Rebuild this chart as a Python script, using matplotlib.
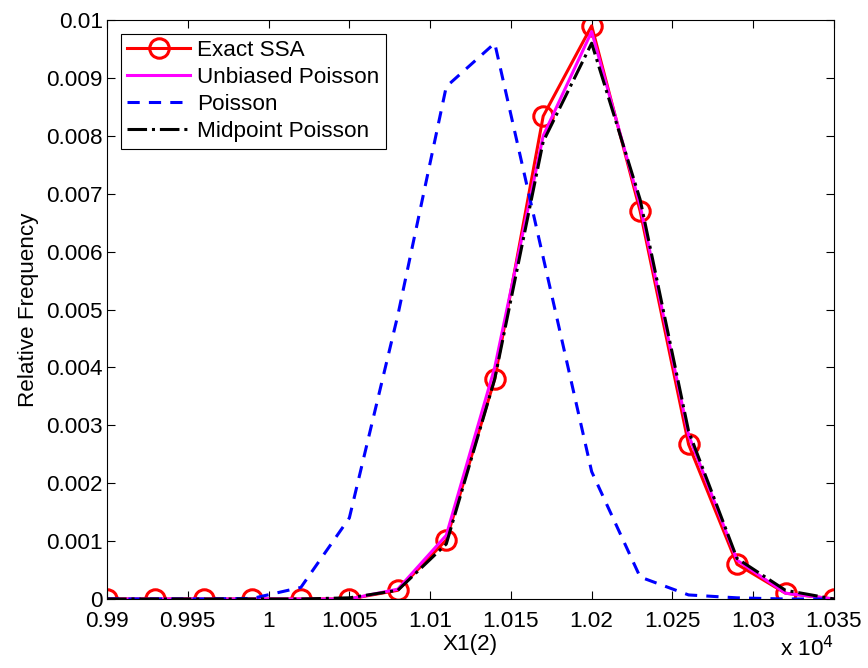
import numpy as np
import matplotlib
matplotlib.use('Agg')
import matplotlib.pyplot as plt
from matplotlib.ticker import FuncFormatter

plt.rcParams['font.family'] = ['Liberation Sans', 'DejaVu Sans']

# bin centres of X1(2)
x = [9900, 9930, 9960, 9990, 10020, 10050, 10080, 10110, 10140,
     10170, 10200, 10230, 10260, 10290, 10320, 10350]

exact_ssa = [0, 0, 0, 0, 0, 0, 0.00015, 0.00102, 0.0038,
             0.00834, 0.0099, 0.0067, 0.00267, 0.0006, 0.0001, 0]
unbiased = [0, 0, 0, 0, 0, 0, 0.00017, 0.00110, 0.0040,
            0.0080, 0.0098, 0.0068, 0.00283, 0.00067, 0.0001, 0]
poisson = [0, 0, 0, 0.00001, 0.0002, 0.0014, 0.0049, 0.00885, 0.0096,
           0.0059, 0.0022, 0.00038, 0.00007, 0.00002, 0, 0]
midpoint = [0, 0, 0, 0, 0, 0.00002, 0.00015, 0.00095, 0.0038,
            0.0079, 0.0096, 0.0069, 0.0029, 0.0007, 0.00015, 0]

fs = 16.2

fig = plt.figure(figsize=(8.68, 6.68), dpi=100)
ax = fig.add_axes([0.1233, 0.1033, 0.8375, 0.8667])

ax.plot(x, exact_ssa, color='red', lw=2.2, marker='o', ms=14,
        mfc='none', mec='red', mew=2.2, label='Exact SSA')
ax.plot(x, unbiased, color='magenta', lw=2.2, label='Unbiased Poisson')
ax.plot(x, poisson, color='blue', lw=2.2, ls='--', dashes=(4, 3), label='Poisson')
ax.plot(x, midpoint, color='black', lw=2.2, ls='-.', label='Midpoint Poisson')

ax.set_xlim(9900, 10350)
ax.set_ylim(0, 0.01)
ax.set_xticks(np.arange(9900, 10351, 50))
ax.set_yticks(np.arange(0, 0.01001, 0.001))
ax.xaxis.set_major_formatter(FuncFormatter(lambda v, p: ('%g' % round(v / 1e4, 4))))
ax.yaxis.set_major_formatter(FuncFormatter(lambda v, p: ('%g' % round(v, 4))))
ax.tick_params(direction='in', top=True, right=True, labelsize=fs, length=6, width=0.8)
ax.tick_params(axis='x', pad=9)
ax.tick_params(axis='y', pad=3)
for s in ax.spines.values():
    s.set_linewidth(0.8)

ax.set_xlabel('X1(2)', fontsize=fs)
ax.xaxis.set_label_coords(0.5, -0.06)
ax.set_ylabel('Relative Frequency', fontsize=fs, labelpad=5)
ax.text(1.0, -0.064, r'x 10$^4$', transform=ax.transAxes, fontsize=fs,
        ha='right', va='top')

leg = ax.legend(loc='upper left', fontsize=fs, frameon=True, fancybox=False,
                edgecolor='black', framealpha=1, handlelength=2.8,
                borderpad=0.3, labelspacing=0.26, handletextpad=0.3,
                borderaxespad=0.6)
leg.get_frame().set_linewidth(0.8)

fig.savefig('out.png', dpi=100)
